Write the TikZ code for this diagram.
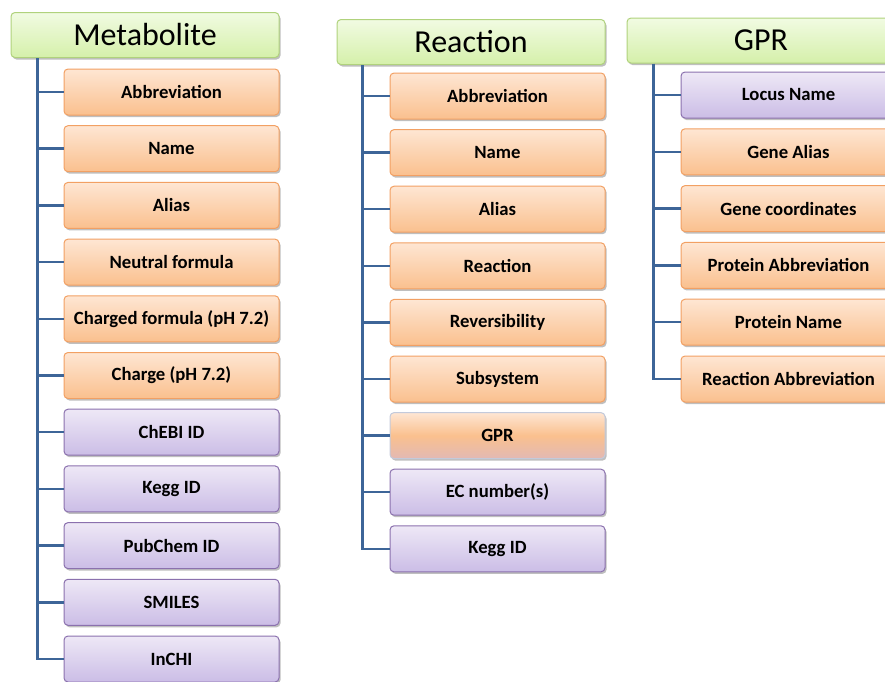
\documentclass[tikz,border=0pt]{standalone}
\usepackage{fontspec}
\setmainfont{Carlito}
\usetikzlibrary{shadows}
\definecolor{linkblue}{HTML}{3D6598}
\definecolor{grtop}{HTML}{F1FBE2}
\definecolor{grbot}{HTML}{D5F0AA}
\definecolor{grline}{HTML}{B0D27C}
\definecolor{ortop}{HTML}{FEE6D3}
\definecolor{orbot}{HTML}{FAC08E}
\definecolor{orline}{HTML}{F2A063}
\definecolor{pubtop}{HTML}{EEE8F6}
\definecolor{pubbot}{HTML}{CBBDE6}
\definecolor{puline}{HTML}{8B71AE}
\definecolor{mixline}{HTML}{C3CADB}
\definecolor{mixbot}{HTML}{E2B9B4}
\tikzset{
  boxbase/.style={rounded corners=4pt, line width=1pt, inner sep=0pt,
    drop shadow={shadow xshift=1.5pt, shadow yshift=-2pt, opacity=0.25, fill=black}},
  header/.style={boxbase, draw=grline, top color=grtop, bottom color=grbot,
    minimum width=268pt, minimum height=45pt, font=\fontsize{32}{32}\selectfont},
  field/.style={boxbase, minimum width=215pt, minimum height=46pt,
    font=\bfseries\fontsize{18.7}{19}\selectfont},
  orfield/.style={field, draw=orline, top color=ortop, bottom color=orbot},
  pufield/.style={field, draw=puline, top color=pubtop, bottom color=pubbot},
  mixfield/.style={field, draw=mixline, top color=ortop, bottom color=mixbot,
    middle color=orbot},
  conn/.style={draw=linkblue, line width=2.5pt},
}
\begin{document}
\begin{tikzpicture}[x=1pt,y=-1pt]
\useasboundingbox (0,0) rectangle (885,681);

% Metabolite column
\node[header] (mh) at (145,35) {Metabolite};
\coordinate (mt) at ([xshift=27pt]mh.south west);
\foreach \name/\kind/\txt [count=\i from 0] in {
  ma/orfield/Abbreviation, mb/orfield/Name, mc/orfield/Alias,
  md/orfield/Neutral formula, me/orfield/Charged formula (pH 7.2),
  mf/orfield/Charge (pH 7.2), mg/pufield/ChEBI ID, mi/pufield/Kegg ID,
  mj/pufield/PubChem ID, mk/pufield/SMILES, ml/pufield/InCHI} {
  \node[\kind] (\name) at (171.5,92+56.7*\i) {\txt};
  \draw[conn] (mt |- \name.west) -- (\name.west);
}
\draw[conn] (mt) |- (ml.west);

% Reaction column
\node[header] (rh) at (471,42) {Reaction};
\coordinate (rt) at ([xshift=26pt]rh.south west);
\foreach \name/\kind/\txt [count=\i from 0] in {
  ra/orfield/Abbreviation, rb/orfield/Name, rc/orfield/Alias,
  rd/orfield/Reaction, re/orfield/Reversibility, rf/orfield/Subsystem,
  rg/mixfield/GPR, ri/pufield/EC number(s), rj/pufield/Kegg ID} {
  \node[\kind] (\name) at (497.5,96+56.6*\i) {\txt};
  \draw[conn] (rt |- \name.west) -- (\name.west);
}
\draw[conn] (rt) |- (rj.west);

% GPR column
\node[header] (gh) at (761,40.5) {GPR};
\coordinate (gt) at ([xshift=27pt]gh.south west);
\foreach \name/\kind/\txt [count=\i from 0] in {
  ga/pufield/Locus Name, gb/orfield/Gene Alias, gc/orfield/Gene coordinates,
  gd/orfield/Protein Abbreviation, ge/orfield/Protein Name,
  gf/orfield/Reaction Abbreviation} {
  \node[\kind] (\name) at (788.5,95+56.8*\i) {\txt};
  \draw[conn] (gt |- \name.west) -- (\name.west);
}
\draw[conn] (gt) |- (gf.west);
\end{tikzpicture}
\end{document}
